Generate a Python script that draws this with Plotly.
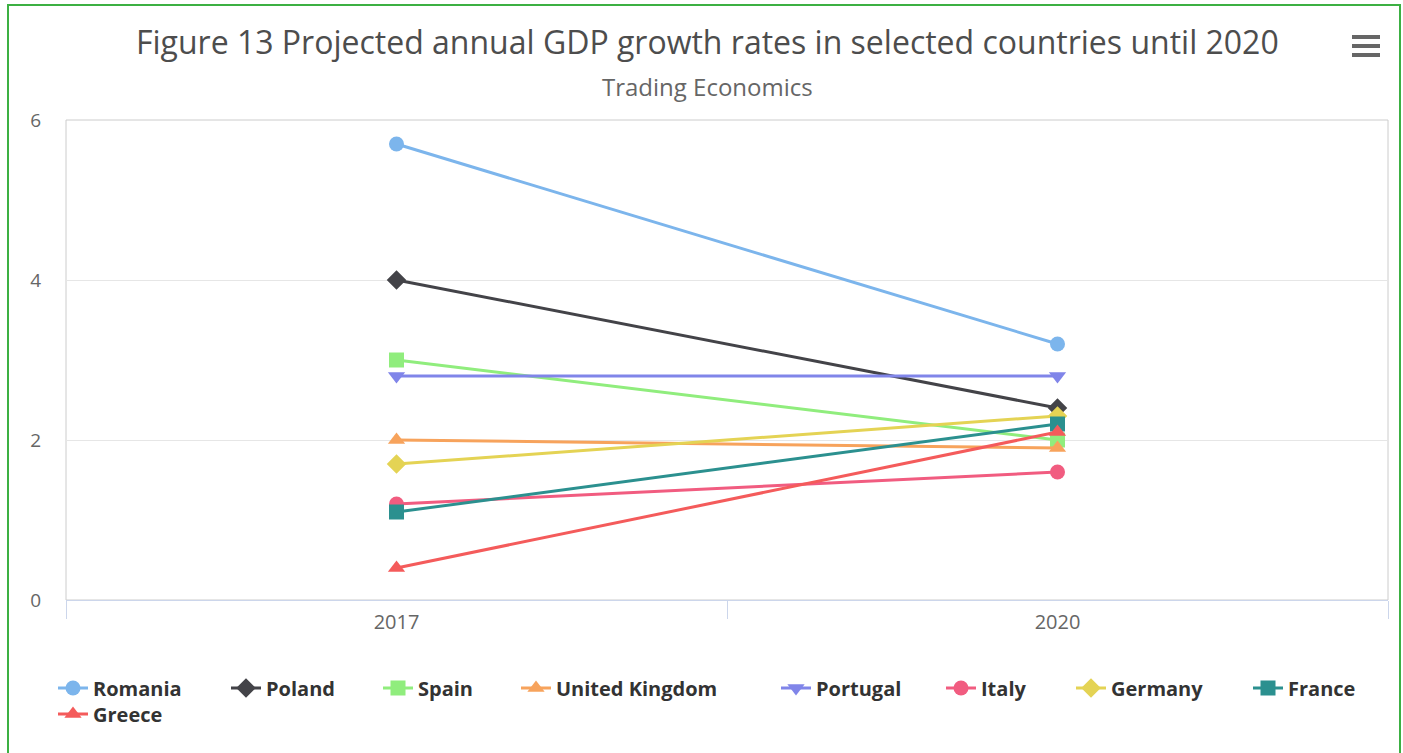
import plotly.graph_objects as go

categories = ["2017", "2020"]
countries = ["Romania", "Poland", "Spain", "United Kingdom", "Portugal",
             "Italy", "Germany", "France", "Greece"]
romania = [5.7, 3.2]
poland = [4.0, 2.4]
spain = [3.0, 2.0]
united_kingdom = [2.0, 1.9]
portugal = [2.8, 2.8]
italy = [1.2, 1.6]
germany = [1.7, 2.3]
france = [1.1, 2.2]
greece = [0.4, 2.1]
series_values = [romania, poland, spain, united_kingdom, portugal,
                 italy, germany, france, greece]
colors = ["#7cb5ec", "#434348", "#90ed7d", "#f7a35c", "#8085e9",
          "#f15c80", "#e4d354", "#2b908f", "#f45b5b"]
symbols = ["circle", "diamond", "square", "triangle-up", "triangle-down",
           "circle", "diamond", "square", "triangle-up"]
y_ticks = [0, 2, 4, 6]

# legend entry anchors in pixels (symbol left edge, row centre)
legend_px = [(55, 688), (228, 688), (380, 688), (518, 688), (778, 688),
             (943, 688), (1073, 688), (1250, 688), (55, 714)]

FONT = "Open Sans"
W, H = 1403, 753
L, R, T, B = 66, 1388, 120, 600


def px_x(p):
    return (p - L) / (R - L)


def px_y(p):
    return (B - p) / (B - T)


fig = go.Figure()
for i, (name, vals, c, s) in enumerate(zip(countries, series_values, colors, symbols)):
    fig.add_trace(go.Scatter(
        x=categories, y=vals, name=name, mode="lines+markers",
        legend="legend" if i == 0 else f"legend{i + 1}",
        line=dict(color=c, width=3),
        marker=dict(symbol=s, size=15 if s in ("circle", "square") else 15,
                    color=c, line=dict(width=0)),
    ))

shapes = []
shapes.append(dict(type="rect", xref="paper", yref="paper", x0=0, x1=1, y0=0, y1=1,
                   line=dict(color="#cccccc", width=1), layer="below"))
shapes.append(dict(type="rect", xref="paper", yref="paper",
                   x0=px_x(8), x1=px_x(1400), y0=px_y(800), y1=px_y(5),
                   line=dict(color="#3cb043", width=2), layer="below"))
for yy in (37, 46, 55):
    shapes.append(dict(type="line", xref="paper", yref="paper",
                       x0=px_x(1352), x1=px_x(1380), y0=px_y(yy), y1=px_y(yy),
                       line=dict(color="#666666", width=4)))

annotations = [
    dict(text="Figure 13 Projected annual GDP growth rates in selected countries until 2020",
         xref="paper", yref="paper", x=px_x(707), y=px_y(41),
         xanchor="center", yanchor="middle", showarrow=False,
         font=dict(family=FONT, size=32, color="#4d4d4d")),
    dict(text="Trading Economics",
         xref="paper", yref="paper", x=px_x(707), y=px_y(86),
         xanchor="center", yanchor="middle", showarrow=False,
         font=dict(family=FONT, size=24, color="#666666")),
]

layout = dict(
    width=W, height=H,
    margin=dict(l=L, r=W - R, t=T, b=H - B),
    paper_bgcolor="white", plot_bgcolor="white",
    font=dict(family=FONT, color="#666666", size=16),
    xaxis=dict(
        type="category", range=[-0.5, 1.5],
        tickson="boundaries", ticks="outside", ticklen=18, tickcolor="#ccd6eb",
        showline=True, linecolor="#ccd6eb", linewidth=1,
        showgrid=False, zeroline=False, ticklabelstandoff=4,
        tickfont=dict(family=FONT, size=20, color="#666666"),
    ),
    yaxis=dict(
        range=[0, 6], tickvals=y_ticks,
        showgrid=True, gridcolor="#e6e6e6", gridwidth=1,
        zeroline=True, zerolinecolor="#000000", zerolinewidth=2,
        showline=False, ticks="", ticklabelstandoff=24,
        tickfont=dict(family=FONT, size=19, color="#666666"),
    ),
    shapes=shapes,
    annotations=annotations,
    showlegend=True,
)

for i, (lx, ly) in enumerate(legend_px):
    key = "legend" if i == 0 else f"legend{i + 1}"
    layout[key] = dict(
        orientation="h", x=px_x(lx - 2), xanchor="left",
        y=px_y(ly), yanchor="middle",
        font=dict(family=FONT, size=20, color="#333333", weight="bold"),
        itemwidth=30, bgcolor="rgba(0,0,0,0)", borderwidth=0,
    )

fig.update_layout(**layout)

fig.write_html("out.html", config={"displayModeBar": False},
               post_script="document.body.style.margin='0';")
